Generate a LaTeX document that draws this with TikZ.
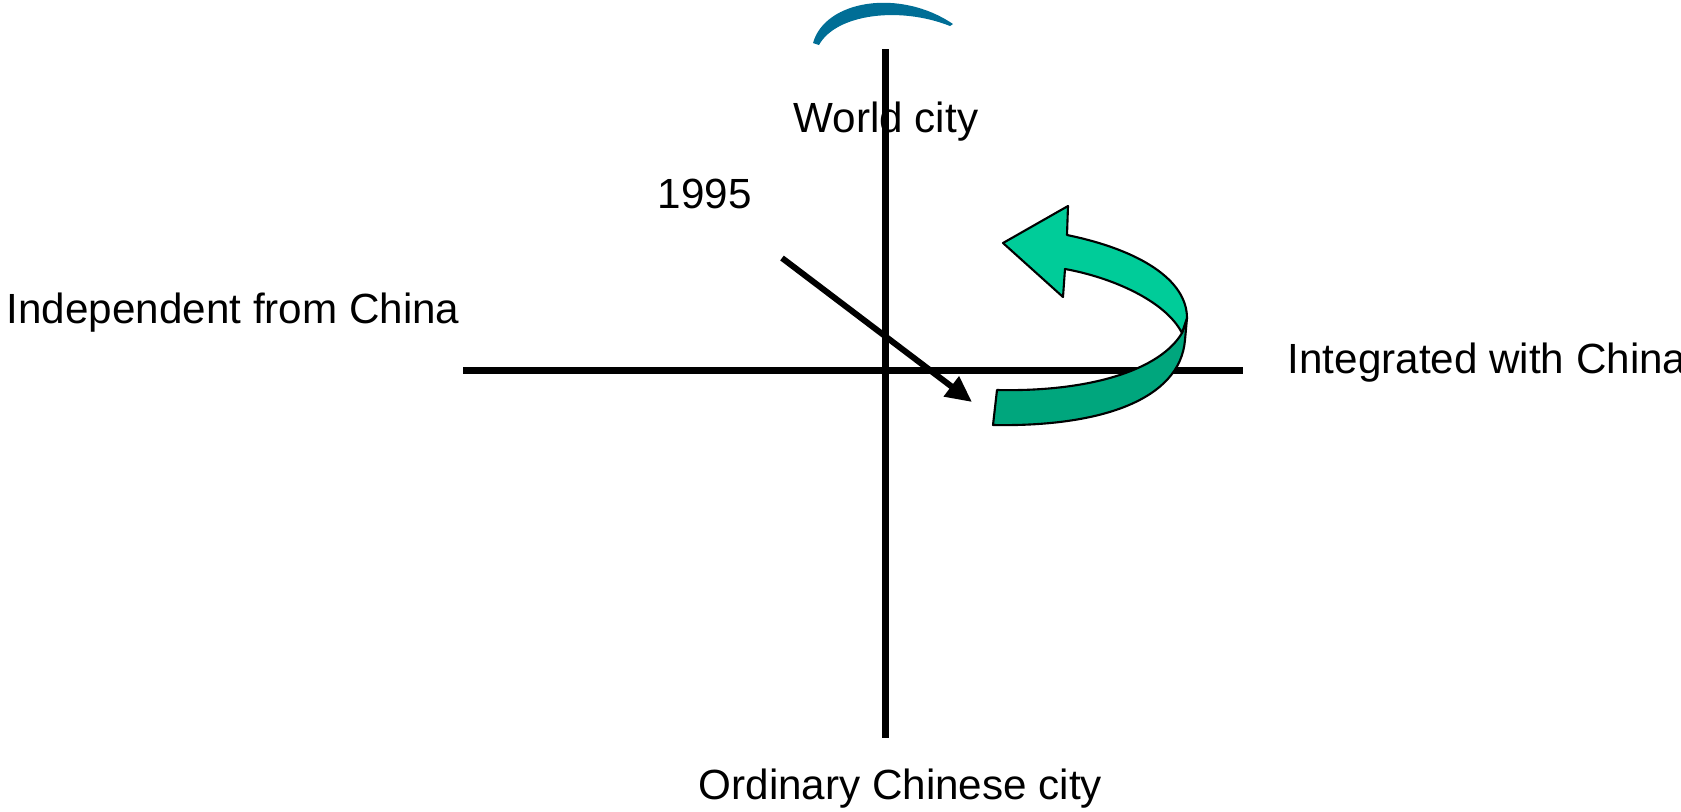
\documentclass[tikz,border=0pt]{standalone}
\usepackage{fontspec}
\setmainfont{Liberation Sans}
\usetikzlibrary{arrows.meta}
\definecolor{ArcTeal}{RGB}{0,110,150}
\definecolor{TurnLight}{RGB}{0,204,153}
\definecolor{TurnDark}{RGB}{0,166,125}

\begin{document}
\begin{tikzpicture}[x=0.01cm,y=-0.01cm,
      axis/.style={line width=0.07cm,draw=black},
      trend/.style={-{Triangle[length=0.26cm,width=0.24cm]},line width=0.06cm,draw=black},
      lbl/.style={anchor=base west,inner sep=0pt,font=\fontsize{12pt}{14pt}\selectfont},
      ribbon/.style={draw=black,line width=0.6pt,line join=round}
    ]
      \useasboundingbox (0,0) rectangle (1681,811);
      % axes
      \coordinate (top) at (885.5,49);
      \coordinate (bottom) at (885.5,738);
      \coordinate (left) at (463,370);
      \coordinate (right) at (1243,370);
      \draw[axis] (top) -- (bottom);
      \draw[axis] (left) -- (right);
      % labels
      \node[lbl] (world) at (793,132) {World city};
      \node[lbl] (year) at (657,208) {1995};
      \node[lbl] (indep) at (6,323) {Independent from China};
      \node[lbl] (integ) at (1287,373) {Integrated with China};
      \node[lbl] (ordin) at (698,799) {Ordinary Chinese city};
      % arc on top
      \fill[ArcTeal] (813,43) .. controls (825,0) and (900,-12) .. (953,24)
        -- (950,26) .. controls (900,6) and (836,14) .. (819,45) -- cycle;
      % trend since 1995
      \coordinate (start) at (782,258);
      \coordinate (end) at (972,402);
      \draw[trend] (start) -- (end);
      % turning arrow
      \filldraw[ribbon,fill=TurnDark] (1187,318) -- (1185,340)
        .. controls (1180,400) and (1100,427) .. (993,425)
        -- (997,390) .. controls (1090,392) and (1160,370) .. (1182,333) -- cycle;
      \filldraw[ribbon,fill=TurnLight] (1067,235)
        .. controls (1140,250) and (1187,280) .. (1187,318)
        -- (1182,333) .. controls (1165,300) and (1110,277) .. (1065,269)
        -- (1063,297) -- (1003,243) -- (1068,206) -- cycle;
    \end{tikzpicture}
\end{document}
